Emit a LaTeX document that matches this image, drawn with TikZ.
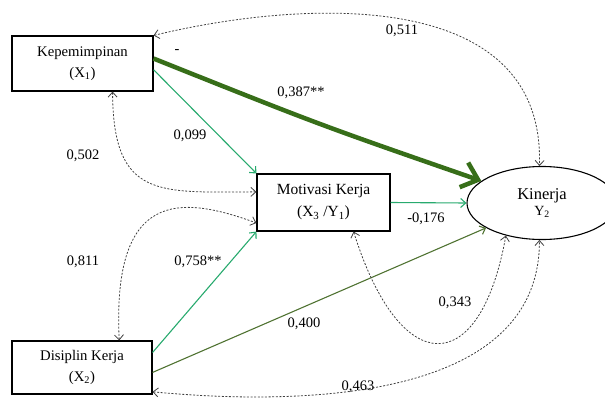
\documentclass[tikz,border=0pt]{standalone}
\usepackage{fontspec}
\setmainfont{Liberation Serif}
\usetikzlibrary{shapes.geometric,arrows.meta}
\definecolor{darkgreen}{RGB}{55,110,25}
\definecolor{teal}{RGB}{40,170,110}
\definecolor{olive}{RGB}{80,115,50}
\begin{document}
\begin{tikzpicture}[x=1pt, y=-1pt, >={Straight Barb[length=5pt,width=9pt]},
  box/.style={draw, line width=1.1pt, align=center, inner sep=0pt,
    font=\fontsize{14.7}{21}\selectfont},
  lbl/.style={font=\fontsize{14.5}{17}\selectfont},
  path/.style={->, line width=1.1pt},
  corr/.style={<->, line width=0.8pt, black!75, dash pattern=on 2pt off 1.6pt}]
  \useasboundingbox (0,0) rectangle (605,399);
  % variables
  \node[box, minimum width=141pt, minimum height=55pt] (kep) at (82.5,63.5) {Kepemimpinan\\(X\textsubscript{1})};
  \node[box, minimum width=140pt, minimum height=53pt] (dis) at (82,367.5) {Disiplin Kerja\\(X\textsubscript{2})};
  \node[box, minimum width=133pt, minimum height=57pt, font=\fontsize{15.5}{22}\selectfont] (mot) at (323.5,202.5) {Motivasi Kerja\\(X\textsubscript{3} /Y\textsubscript{1})};
  \node[draw, ellipse, line width=1.1pt, minimum width=150pt, minimum height=73pt, inner sep=0pt, align=center] (kin) at (542,203)
    {\fontsize{16.5}{20}\selectfont Kinerja\\[2pt]\fontsize{14}{15}\selectfont Y\textsubscript{2}};
  % paths
  \draw[path, line width=4.5pt, darkgreen, >={Straight Barb[length=15pt,width=26pt]}] (kep.4) .. controls (320,125) .. (kin.160);
  \draw[path, teal] (kep.-5) -- (mot.north west);
  \draw[path, teal] (dis.12) -- (mot.south west);
  \draw[path, teal] (mot.east) -- (kin.west);
  \draw[path, olive] (dis.-4) -- (kin.204);
  % correlations
  \draw[corr] (kep.north east) .. controls (300,0) and (545,-15) .. (kin.94);
  \draw[corr] (kep.-43) .. controls (113,200) and (160,192) .. (mot.171);
  \draw[corr] (dis.36) .. controls (112,190) and (180,195) .. (mot.197);
  \draw[corr] (mot.-44) .. controls (400,380) and (480,380) .. (kin.222);
  \draw[corr] (dis.-19) .. controls (280,404) and (540,408) .. (kin.266);
  % coefficients
  \node[lbl] (l1) at (177,52) {-};
  \node[lbl] (l2) at (301,93) {0,387**};
  \node[lbl] (l3) at (190,136) {0,099};
  \node[lbl] (l4) at (83,156) {0,502};
  \node[lbl] (l5) at (83,262) {0,811};
  \node[lbl] (l6) at (198,262) {0,758**};
  \node[lbl] (l7) at (304,324) {0,400};
  \node[lbl] (l8) at (426,219) {-0,176};
  \node[lbl] (l9) at (455,303) {0,343};
  \node[lbl] (l10) at (358,387) {0,463};
  \node[lbl] (l11) at (402,31) {0,511};
\end{tikzpicture}
\end{document}
